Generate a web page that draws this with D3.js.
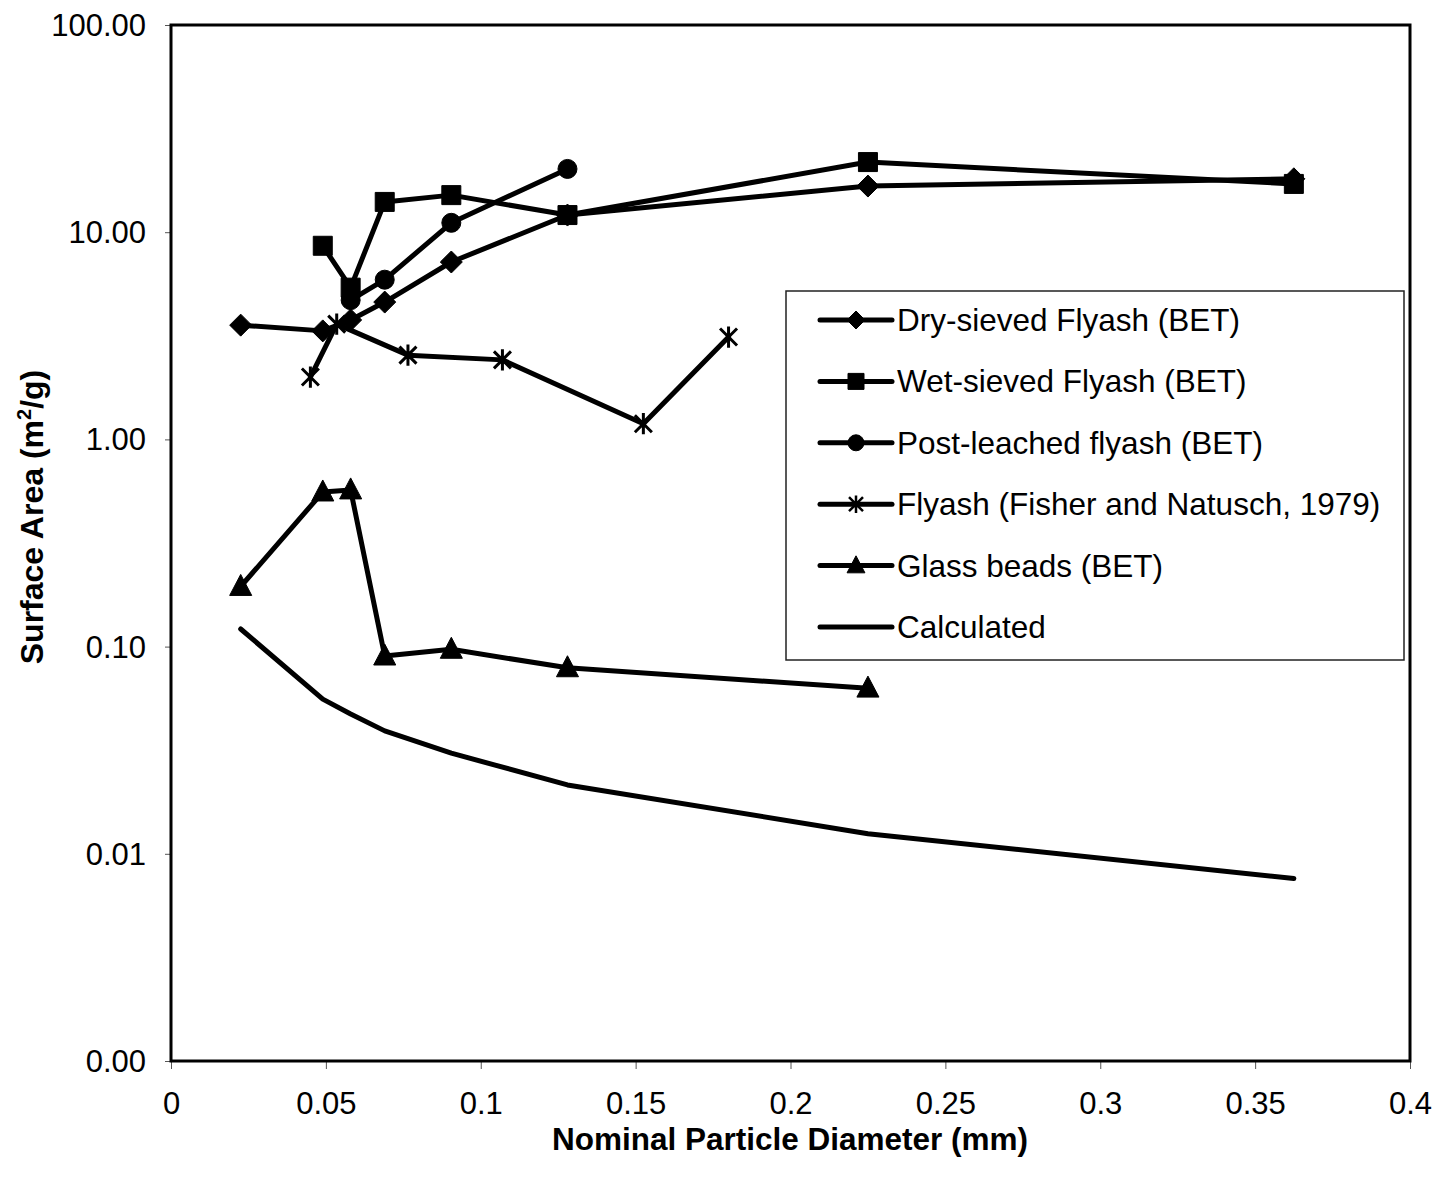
<!DOCTYPE html>
<html><head><meta charset="utf-8">
<script src="https://cdn.jsdelivr.net/npm/d3@7"></script>
<style>body{margin:0;background:#fff}svg{display:block}text{font-family:"Liberation Sans",Arial,sans-serif}</style>
</head><body><svg id="c" width="1436" height="1180"></svg>
<script>
// ---- data ----
const dryX = [0.0225, 0.049, 0.058, 0.069, 0.0905, 0.128, 0.225, 0.3625];
const dryY = [3.56, 3.34, 3.77, 4.60, 7.18, 12.1, 16.7, 18.1];
const wetX = [0.049, 0.058, 0.069, 0.0905, 0.128, 0.225, 0.3625];
const wetY = [8.6, 5.4, 14.0, 15.1, 12.1, 21.8, 17.1];
const postX = [0.058, 0.069, 0.0905, 0.128];
const postY = [4.7, 5.9, 11.1, 20.2];
const fisherX = [0.045, 0.0535, 0.0765, 0.107, 0.1525, 0.180];
const fisherY = [2.0, 3.6, 2.55, 2.42, 1.19, 3.12];
const glassX = [0.0225, 0.049, 0.058, 0.069, 0.0905, 0.128, 0.225];
const glassY = [0.195, 0.557, 0.57, 0.090, 0.097, 0.079, 0.063];
const calcX = [0.0225, 0.049, 0.058, 0.069, 0.0905, 0.128, 0.225, 0.3625];
const calcY = [0.1216, 0.0558, 0.0473, 0.0392, 0.0306, 0.0215, 0.0125, 0.0076];
const seriesNames = ["Dry-sieved Flyash (BET)", "Wet-sieved Flyash (BET)", "Post-leached flyash (BET)",
  "Flyash (Fisher and Natusch, 1979)", "Glass beads (BET)", "Calculated"];
const xTicks = [0, 0.05, 0.1, 0.15, 0.2, 0.25, 0.3, 0.35, 0.4];
const xTickLabels = ["0", "0.05", "0.1", "0.15", "0.2", "0.25", "0.3", "0.35", "0.4"];
const yTicks = [0.001, 0.01, 0.1, 1, 10, 100];
const yTickLabels = ["0.00", "0.01", "0.10", "1.00", "10.00", "100.00"];

// ---- layout ----
const L = 171, R = 1410, T = 25, B = 1061;
const FONT = '"Liberation Sans", Arial, sans-serif';
const svg = d3.select("#c");
const x = d3.scaleLinear().domain([0, 0.4]).range([L, R]);
const y = d3.scaleLog().domain([0.001, 100]).range([B, T]);

// custom marker shapes
const sym = {
  diamond: {draw(c, r){c.moveTo(0,-r);c.lineTo(r,0);c.lineTo(0,r);c.lineTo(-r,0);c.closePath();}},
  square: {draw(c, r){c.rect(-r,-r,2*r,2*r);}},
  circle: {draw(c, r){c.moveTo(r,0);c.arc(0,0,r,0,2*Math.PI);}},
  triangle: {draw(c, r){c.moveTo(0,-r*1.15);c.lineTo(r*1.05,r*0.85);c.lineTo(-r*1.05,r*0.85);c.closePath();}},
  star: {draw(c, r){c.moveTo(-r,-r);c.lineTo(r,r);c.moveTo(r,-r);c.lineTo(-r,r);c.moveTo(0,-r*1.25);c.lineTo(0,r*1.25);}}
};

const series = [
  {name: seriesNames[0], xs: dryX, ys: dryY, m: "diamond", r: 11, lr: 9},
  {name: seriesNames[1], xs: wetX, ys: wetY, m: "square", r: 9.5, lr: 8},
  {name: seriesNames[2], xs: postX, ys: postY, m: "circle", r: 9.5, lr: 8},
  {name: seriesNames[3], xs: fisherX, ys: fisherY, m: "star", r: 8.5, lr: 7},
  {name: seriesNames[4], xs: glassX, ys: glassY, m: "triangle", r: 10.5, lr: 8.5},
  {name: seriesNames[5], xs: calcX, ys: calcY, m: null}
];

// axes (ticks + labels)
const yAxis = d3.axisLeft(y).tickValues(yTicks).tickFormat((d,i)=>yTickLabels[i]).tickSize(6).tickPadding(19);
const gy = svg.append("g").attr("transform", `translate(${L},0)`).call(yAxis);
gy.select(".domain").remove();
gy.selectAll(".tick line").attr("stroke", "#555").attr("stroke-width", 1);
gy.selectAll(".tick text").attr("font-size", 31).attr("fill", "#000").attr("dy", "0.34em")
  .style("font-family", FONT);

const xAxis = d3.axisBottom(x).tickValues(xTicks).tickFormat((d,i)=>xTickLabels[i]).tickSize(8).tickPadding(23);
const gx = svg.append("g").attr("transform", `translate(0,${B})`).call(xAxis);
gx.select(".domain").remove();
gx.selectAll(".tick line").attr("stroke", "#555").attr("stroke-width", 1);
gx.selectAll(".tick text").attr("font-size", 31).attr("fill", "#000")
  .style("font-family", FONT);

// plot frame
svg.append("rect").attr("x", L).attr("y", T).attr("width", R - L).attr("height", B - T)
  .attr("fill", "none").attr("stroke", "#000").attr("stroke-width", 3);

// series lines and markers
const line = d3.line().x(d => x(d[0])).y(d => y(d[1]));
series.slice().reverse().forEach(s => {
  const pts = s.xs.map((v, i) => [v, s.ys[i]]);
  svg.append("path").datum(pts).attr("d", line).attr("fill", "none")
    .attr("stroke", "#000").attr("stroke-width", 5).attr("stroke-linejoin", "round").attr("stroke-linecap", "round");
  if (s.m) {
    const g = svg.append("g");
    g.selectAll("path").data(pts).join("path")
      .attr("transform", d => `translate(${x(d[0])},${y(d[1])})`)
      .attr("d", d3.symbol().type(sym[s.m]).size(s.r))
      .attr("fill", s.m === "star" ? "none" : "#000")
      .attr("stroke", "#000")
      .attr("stroke-width", s.m === "star" ? 3 : 1)
      .attr("stroke-linejoin", "round");
  }
});

// legend
const lg = svg.append("g");
lg.append("rect").attr("x", 786).attr("y", 291).attr("width", 618).attr("height", 369)
  .attr("fill", "#fff").attr("stroke", "#222").attr("stroke-width", 1.5);
series.forEach((s, i) => {
  const yy = 320 + i * 61.4;
  lg.append("line").attr("x1", 820).attr("x2", 892).attr("y1", yy).attr("y2", yy)
    .attr("stroke", "#000").attr("stroke-width", 5).attr("stroke-linecap", "round");
  if (s.m) {
    lg.append("path").attr("transform", `translate(856,${yy})`)
      .attr("d", d3.symbol().type(sym[s.m]).size(s.lr))
      .attr("fill", s.m === "star" ? "none" : "#000").attr("stroke", "#000")
      .attr("stroke-width", s.m === "star" ? 2.5 : 1);
  }
  lg.append("text").attr("x", 897).attr("y", yy + 11).attr("font-size", 31.5).text(s.name);
});

// axis titles
svg.append("text").attr("x", 790).attr("y", 1150).attr("text-anchor", "middle")
  .attr("font-size", 31.5).attr("font-weight", "bold").text("Nominal Particle Diameter (mm)");
const yt = svg.append("text").attr("transform", "translate(43,517) rotate(-90)").attr("text-anchor", "middle")
  .attr("font-size", 32).attr("font-weight", "bold");
yt.append("tspan").text("Surface Area (m");
yt.append("tspan").attr("font-size", 20).attr("dy", -12).text("2");
yt.append("tspan").attr("dy", 12).text("/g)");
</script>
</body></html>
